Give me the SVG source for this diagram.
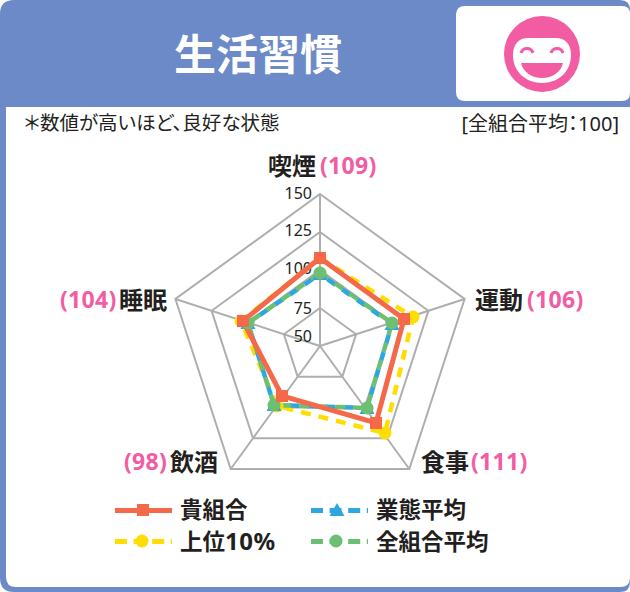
<svg xmlns="http://www.w3.org/2000/svg" width="630" height="592" viewBox="0 0 630 592">
<style>
text{font-family:"Noto Sans","Noto Sans CJK JP",sans-serif;fill:#231f20;font-feature-settings:"palt"}
.b{font-weight:700}
.p{fill:#f25ca2;font-weight:700;font-size:23px;letter-spacing:.3px}
.l{font-weight:700;font-size:24px}
.k{font-weight:700;font-size:22.5px}
.t{font-size:16px;text-anchor:end}
.g{fill:none;stroke:#aeaeae;stroke-width:2}
.s{fill:none;stroke-width:5;stroke-linejoin:miter}
.d{stroke-width:4.5;stroke-dasharray:10 8}
.m{fill:none;stroke-width:5;stroke-dasharray:12 6.6}
</style>
<defs>
<path id="mk-s" d="M-6-6h12v12h-12z"/>
<path id="mk-t" d="M0-7L7.500 6h-15z"/>
<circle id="mk-c" r="6.500"/>
</defs>
<g id="frame">
<path d="M14 0H620Q630 0 630 10V582Q630 592 620 592H14Q0 592 0 578V14Q0 0 14 0Z" fill="#6b8ac7"/>
<path d="M6 107H630V578Q630 587 620 587H16Q6 587 6 577Z" fill="#fff"/>
</g>
<g id="title"><text x="258" y="70" class="b" font-size="42" text-anchor="middle" style="fill:#fff">生活習慣</text></g>
<g id="face">
<path d="M465 6H622Q630 6 630 14V93Q630 101 622 101H465Q456 101 456 92V15Q456 6 465 6Z" fill="#fff"/>
<circle cx="542" cy="54" r="38" fill="#f25ca2"/>
<path d="M513 55C513 44 519 38 528 38H556C565 38 571 44 571 55C571 72 558 83 542 83C526 83 513 72 513 55Z" fill="#fff"/>
<path d="M521 63H563C561 72 552 78 542 78C532 78 523 72 521 63Z" fill="#f25ca2"/>
<path d="M521 53C523 47 531 47 533 53M551 53C553 47 561 47 563 53" fill="none" stroke="#f25ca2" stroke-width="3"/>
</g>
<g id="notes">
<text x="24" y="130" font-size="19.500">＊数値が高いほど、良好な状態</text>
<text x="619" y="131" font-size="20" text-anchor="end">[全組合平均：100]</text>
</g>
<g id="grid">
<polygon class="g" points="320,194 464.6,299 409.3,469 230.7,469 175.4,299"/>
<polygon class="g" points="320,232 428.4,310.8 387,438.2 253,438.2 211.6,310.8"/>
<polygon class="g" points="320,270 392.3,322.5 364.7,407.5 275.3,407.5 247.7,322.5"/>
<polygon class="g" points="320,308 356.1,334.3 342.3,376.7 297.7,376.7 283.9,334.3"/>
<path class="g" d="M320 346V194M320 346L464.6 299M320 346L409.3 469M320 346L230.7 469M320 346L175.4 299"/>
</g>
<g id="ticks">
<text class="t" x="312" y="199">150</text>
<text class="t" x="312" y="236">125</text>
<text class="t" x="312" y="274">100</text>
<text class="t" x="312" y="314">75</text>
<text class="t" x="312" y="342">50</text>
</g>
<g id="connectors">
<polygon class="s d" stroke="#ffdd00" points="320,258 413,317 385,433 277,406 241,321"/>
<polygon class="s d" stroke="#2ea7e0" stroke-dashoffset="9" points="320,274 392,324 367,408 274,405 248,323"/>
<polygon class="s d" stroke="#6cbf73" points="320,273 392,323 367,408 274,405 248,323"/>
<polygon class="s" stroke="#f4694a" points="320,258 404,319 376,423 282,396 243,321"/>
</g>
<g id="markers">
<g fill="#ffdd00"><use href="#mk-c" x="320" y="258"/><use href="#mk-c" x="413" y="317"/><use href="#mk-c" x="385" y="433"/><use href="#mk-c" x="277" y="406"/><use href="#mk-c" x="241" y="321"/></g>
<g fill="#2ea7e0"><use href="#mk-t" x="320" y="274"/><use href="#mk-t" x="392" y="324"/><use href="#mk-t" x="367" y="408"/><use href="#mk-t" x="274" y="405"/><use href="#mk-t" x="248" y="323"/></g>
<g fill="#6cbf73"><use href="#mk-c" x="320" y="273"/><use href="#mk-c" x="392" y="323"/><use href="#mk-c" x="367" y="408"/><use href="#mk-c" x="274" y="405"/><use href="#mk-c" x="248" y="323"/></g>
<g fill="#f4694a"><use href="#mk-s" x="320" y="258"/><use href="#mk-s" x="404" y="319"/><use href="#mk-s" x="376" y="423"/><use href="#mk-s" x="282" y="396"/><use href="#mk-s" x="243" y="321"/></g>
</g>
<g id="label-smoking"><text class="l" x="268" y="175">喫煙</text><text class="p" x="320" y="174">(109)</text></g>
<g id="label-exercise"><text class="l" x="475" y="309">運動</text><text class="p" x="527" y="308">(106)</text></g>
<g id="label-food"><text class="l" x="421" y="471">食事</text><text class="p" x="471" y="470">(111)</text></g>
<g id="label-drink"><text class="p" x="124" y="470">(98)</text><text class="l" x="170" y="471">飲酒</text></g>
<g id="label-sleep"><text class="p" x="60" y="308">(104)</text><text class="l" x="119" y="309">睡眠</text></g>
<g id="legend">
<path d="M115 510.500H172" fill="none" stroke="#f4694a" stroke-width="5"/><use href="#mk-s" x="143" y="510" fill="#f4694a"/>
<text class="k" x="180" y="518">貴組合</text>
<path d="M311 510.500H368" class="m" stroke="#2ea7e0"/><use href="#mk-t" x="337" y="510" fill="#2ea7e0"/>
<text class="k" x="376" y="518">業態平均</text>
<path d="M115 541.500H172" class="m" stroke="#ffdd00"/><use href="#mk-c" x="142" y="541" fill="#ffdd00"/>
<text class="k" x="180" y="550">上位<tspan font-size="24" letter-spacing=".5">10%</tspan></text>
<path d="M311 541.500H368" class="m" stroke="#6cbf73"/><use href="#mk-c" x="336" y="541" fill="#6cbf73"/>
<text class="k" x="376" y="550">全組合平均</text>
</g>
</svg>
